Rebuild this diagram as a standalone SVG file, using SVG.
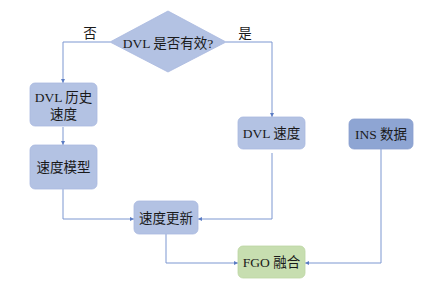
<svg xmlns="http://www.w3.org/2000/svg" width="436" height="293" viewBox="0 0 436 293">
<defs>
<marker id="ah" viewBox="0 0 6 6" refX="6" refY="3" markerWidth="4" markerHeight="4" orient="auto" markerUnits="userSpaceOnUse">
<path d="M0,0 L6,3 L0,6 z" fill="#5b7cc4"/>
</marker>
</defs>
<style>
.bx{fill:#b3c2e3;stroke:#a9b9df;stroke-width:0.8}
.ins{fill:#8ea5d3;stroke:#8aa0cf;stroke-width:0.8}
.fgo{fill:#c7deb0;stroke:#bcd6a3;stroke-width:0.8}
.t{font-family:"Liberation Serif","Noto Sans CJK SC",serif;font-size:13.5px;fill:#1a1a1a;text-anchor:middle;dominant-baseline:central}
.c{fill:none;stroke:#7d97d1;stroke-width:1;marker-end:url(#ah)}
</style>
<rect width="436" height="293" fill="#ffffff"/>
<g id="connectors">
<polyline class="c" points="110,42 63,42 63,83"/>
<polyline class="c" points="226,42 272,42 272,117"/>
<line class="c" x1="63" y1="127" x2="63" y2="145"/>
<polyline class="c" points="63,189 63,219 134,219"/>
<polyline class="c" points="272,153 272,219 198,219"/>
<polyline class="c" points="166,234 166,263 238,263"/>
<polyline class="c" points="381,149 381,263 305,263"/>
<text class="t" x="90" y="33">否</text>
<text class="t" x="245" y="33">是</text>
</g>
<g id="decision">
<polygon class="bx" points="168,11 226,42 168,72 110,42"/>
<text class="t" x="168" y="43">DVL 是否有效?</text>
</g>
<g id="dvl-history">
<rect class="bx" x="30" y="83" width="67" height="43" rx="5"/>
<text class="t" x="63.5" y="97">DVL 历史</text>
<text class="t" x="63.5" y="114">速度</text>
</g>
<g id="dvl-speed">
<rect class="bx" x="238" y="117" width="67" height="32" rx="5"/>
<text class="t" x="271.5" y="133">DVL 速度</text>
</g>
<g id="ins-data">
<rect class="ins" x="349" y="119" width="64" height="30" rx="5"/>
<text class="t" x="381" y="134">INS 数据</text>
</g>
<g id="speed-model">
<rect class="bx" x="30" y="145" width="67" height="44" rx="5"/>
<text class="t" x="63.5" y="167">速度模型</text>
</g>
<g id="speed-update">
<rect class="bx" x="134" y="201" width="64" height="33" rx="5"/>
<text class="t" x="166" y="218">速度更新</text>
</g>
<g id="fgo">
<rect class="fgo" x="238" y="246" width="67" height="32" rx="5"/>
<text class="t" x="271.5" y="262">FGO 融合</text>
</g>
</svg>
